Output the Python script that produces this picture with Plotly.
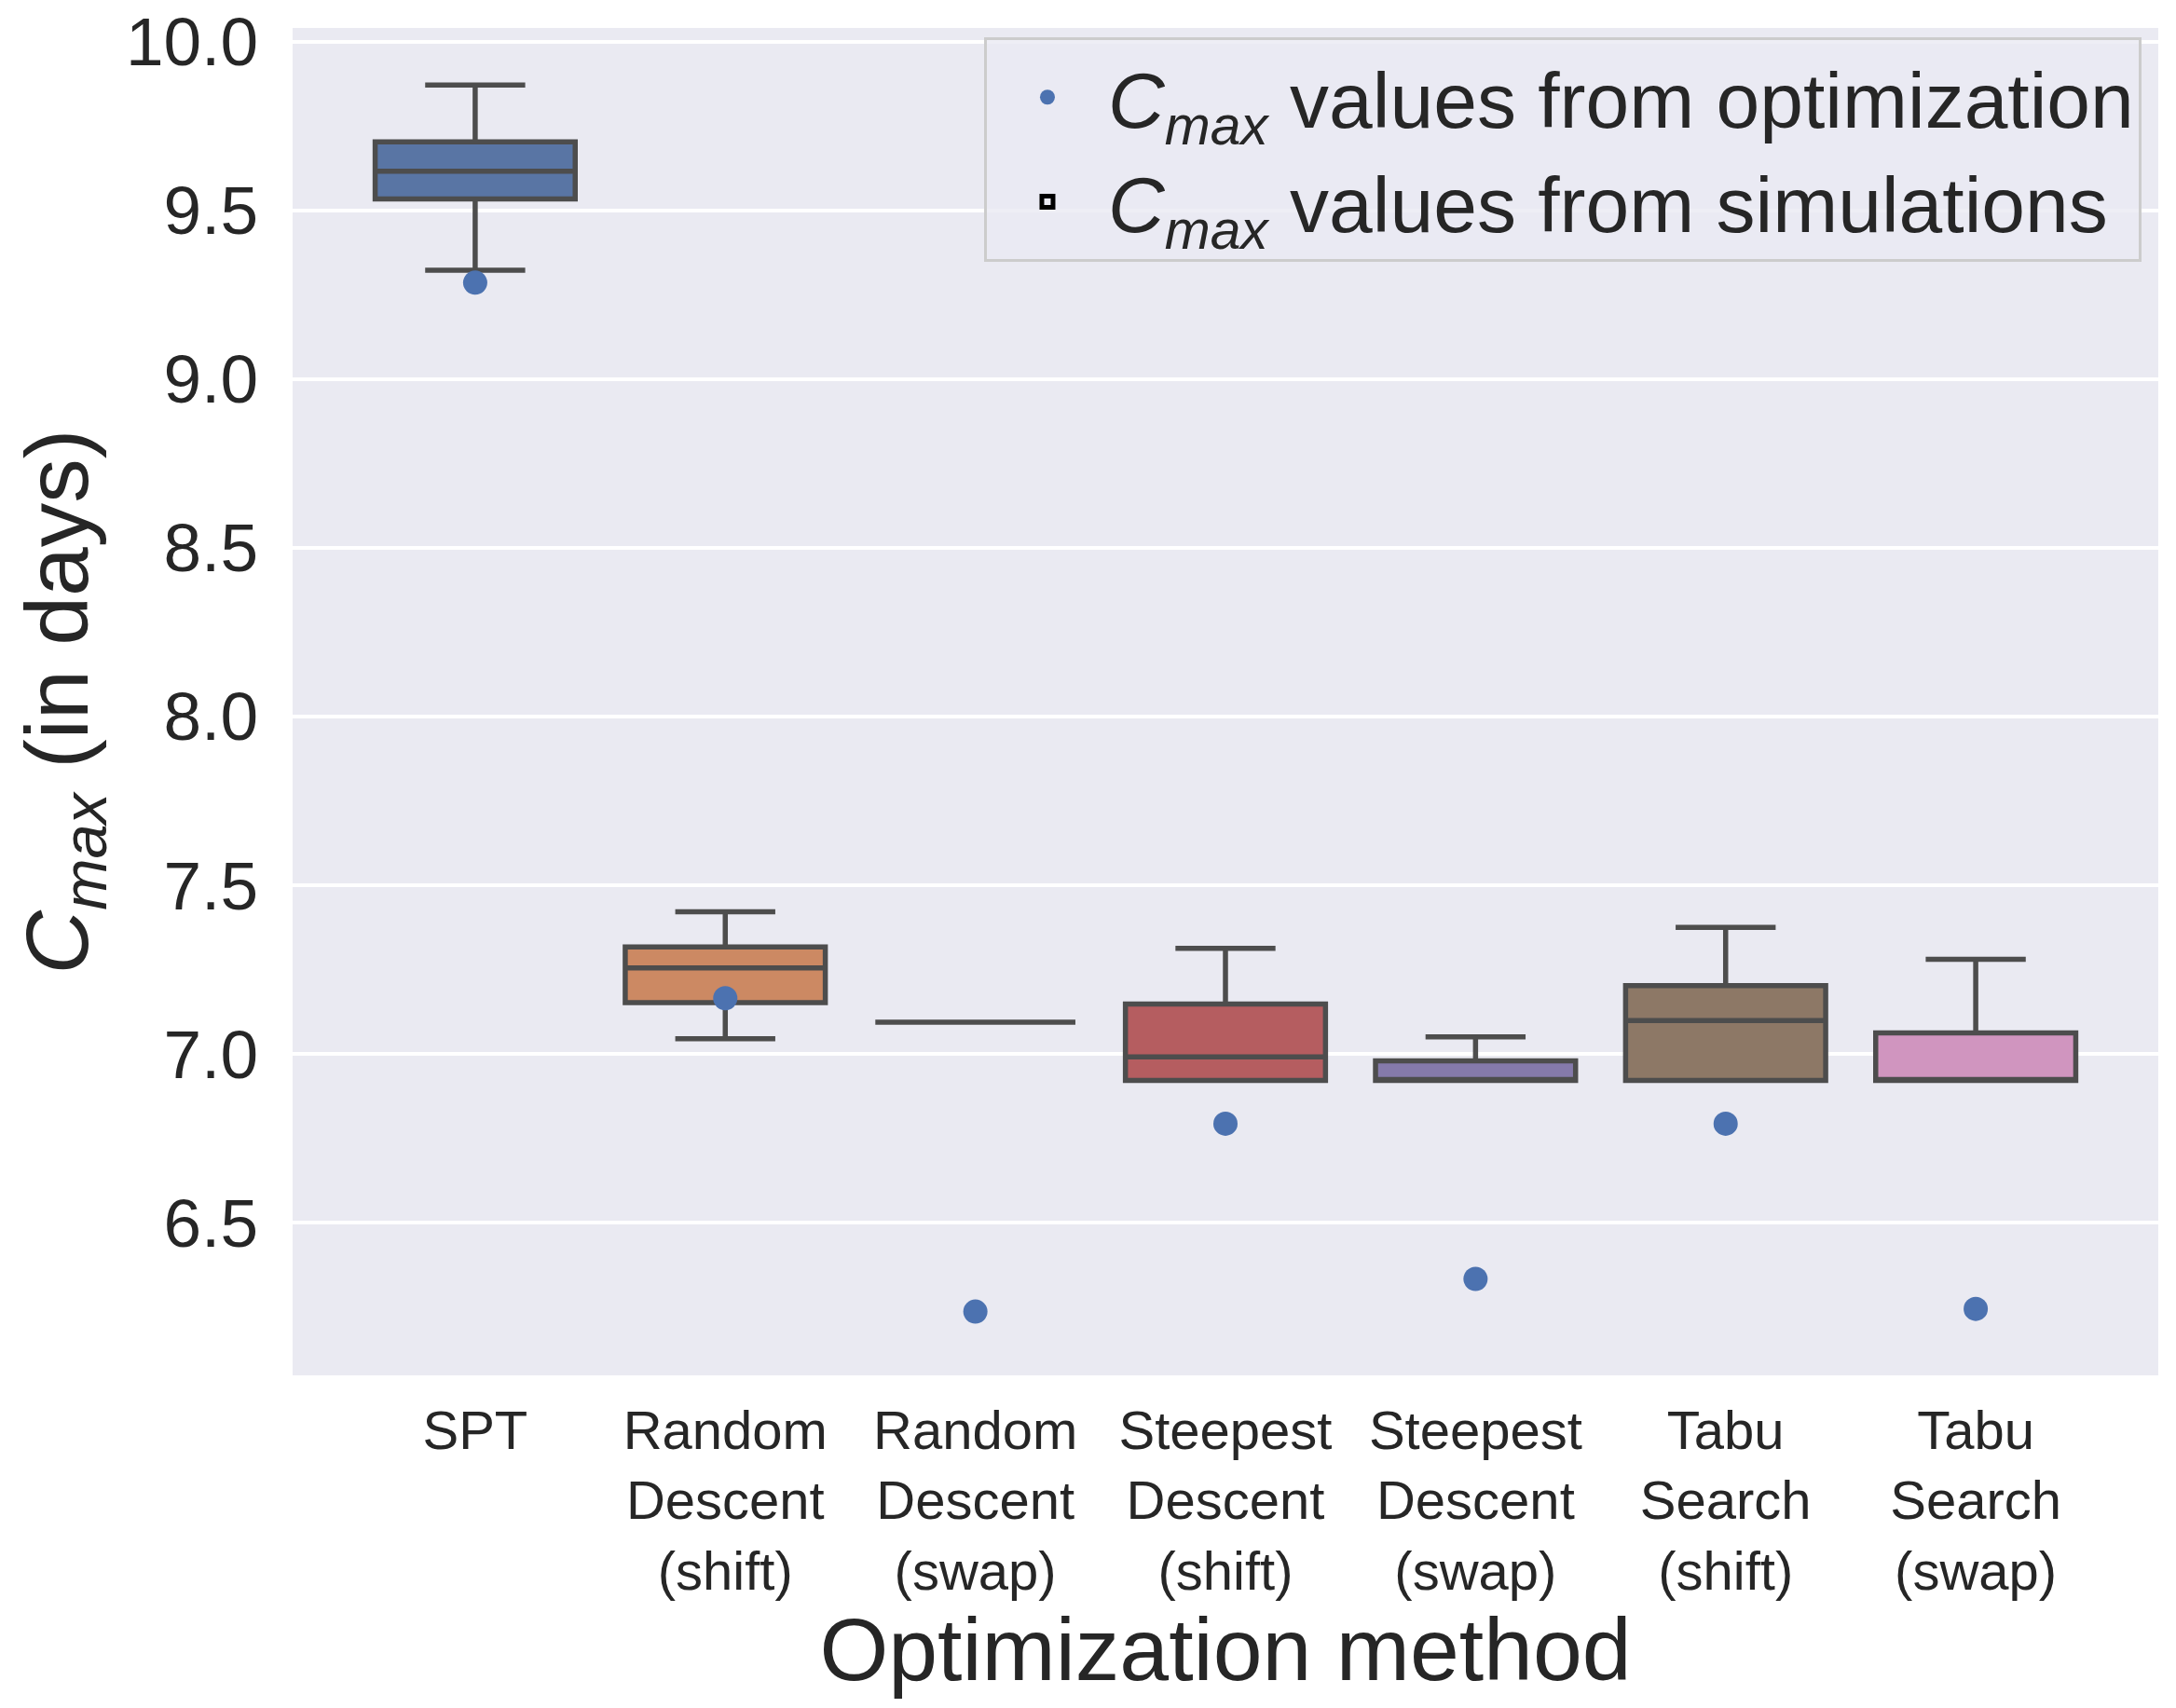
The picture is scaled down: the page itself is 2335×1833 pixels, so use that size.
import plotly.graph_objects as go

categories = ["SPT", "Random<br>Descent<br>(shift)", "Random<br>Descent<br>(swap)",
              "Steepest<br>Descent<br>(shift)", "Steepest<br>Descent<br>(swap)",
              "Tabu<br>Search<br>(shift)", "Tabu<br>Search<br>(swap)"]

# box statistics from simulations
upper_whisker = [9.872, 7.421, 7.094, 7.313, 7.050, 7.375, 7.280]
q3_values     = [9.703, 7.317, 7.094, 7.148, 6.979, 7.202, 7.062]
medians       = [9.616, 7.255, 7.094, 6.991, 6.921, 7.099, 6.921]
q1_values     = [9.534, 7.152, 7.094, 6.921, 6.921, 6.921, 6.921]
lower_whisker = [9.323, 7.045, 7.094, 6.921, 6.921, 6.921, 6.921]

# values from optimization
opt_values = [9.286, 7.165, 6.236, 6.793, 6.333, 6.793, 6.244]

box_colors = ["#5975A4", "#CC8963", "#5F9E6E", "#B55D60", "#857AAB", "#8D7866", "#D095BF"]

y_ticks = [6.5, 7.0, 7.5, 8.0, 8.5, 9.0, 9.5, 10.0]

LINE = "#4D4D4D"
FONT = "Liberation Sans, Arial, sans-serif"
TXT = "#262626"

fig = go.Figure()

for i, cat in enumerate(categories):
    fig.add_trace(go.Box(
        x=[cat],
        q1=[q1_values[i]], median=[medians[i]], q3=[q3_values[i]],
        lowerfence=[lower_whisker[i]], upperfence=[upper_whisker[i]],
        fillcolor=box_colors[i],
        line=dict(color=LINE, width=5.5),
        width=0.8,
        whiskerwidth=0.5,
        boxpoints=False,
        showlegend=False,
        hoverinfo="skip",
    ))

fig.add_trace(go.Scatter(
    x=categories, y=opt_values, mode="markers",
    marker=dict(color="#4C72B0", size=26),
    name="<i>C</i><sub><i>max</i></sub> values from optimization",
    showlegend=True,
))

# legend entry for box plots
fig.add_trace(go.Box(
    x=[None], y=[None],
    fillcolor="rgba(255,255,255,0)",
    line=dict(color="black", width=5),
    name="<i>C</i><sub><i>max</i></sub> values from simulations",
    showlegend=True,
    hoverinfo="skip",
))

fig.update_layout(
    width=2319, height=1815,
    margin=dict(l=306, r=11, t=22, b=347, autoexpand=False),
    paper_bgcolor="white",
    plot_bgcolor="#EAEAF2",
    font=dict(family=FONT, color=TXT),
    boxmode="overlay",
    showlegend=True,
    legend=dict(
        x=0.991, y=0.993, xanchor="right", yanchor="top",
        bgcolor="rgba(234,234,242,0.8)",
        bordercolor="#CCCCCC", borderwidth=3,
        font=dict(size=84, family=FONT, color=TXT),
        itemwidth=120,
        tracegroupgap=0,
    ),
)

fig.update_xaxes(
    type="category",
    categoryorder="array", categoryarray=categories,
    range=[-0.73, 6.73],
    automargin=False,
    showgrid=False, zeroline=False, showline=False,
    ticks="", ticklabelstandoff=20,
    tickfont=dict(size=58, family=FONT, color=TXT),
    title=dict(text="Optimization method", font=dict(size=95, family=FONT, color=TXT), standoff=10),
)

fig.update_yaxes(
    range=[6.047, 10.041],
    tickvals=y_ticks,
    ticktext=[f"{v:.1f}" for v in y_ticks],
    automargin=False,
    showgrid=True, gridcolor="white", gridwidth=4,
    zeroline=False, showline=False,
    ticks="", ticklabelstandoff=36,
    ticklabeloverflow="allow",
    tickfont=dict(size=73, family=FONT, color=TXT),
    title=dict(text="<i>C</i><sub><i>max</i></sub> (in days)", font=dict(size=95, family=FONT, color=TXT), standoff=52),
)

fig.write_html("out.html")
